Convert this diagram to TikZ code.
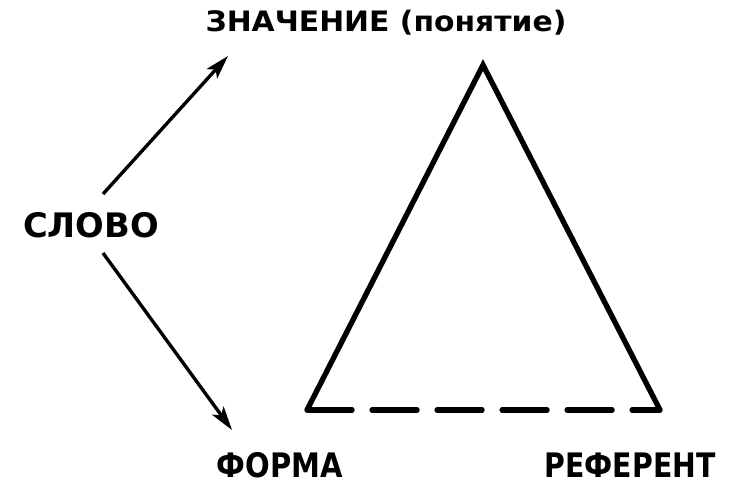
\documentclass[tikz,border=0pt]{standalone}
\usepackage{fontspec}
\setmainfont{DejaVu Sans}
\usetikzlibrary{arrows.meta}

\begin{document}
\begin{tikzpicture}[x=0.025cm,y=-0.025cm,
  word/.style={font=\bfseries\fontsize{24}{24}\selectfont, inner sep=0pt, anchor=base},
  side/.style={line width=3.8pt, line join=miter},
  pointer/.style={line width=2.4pt, -{Stealth[length=17pt,width=10pt,inset=4pt]}}]
\useasboundingbox (0,0) rectangle (740,498);
% words
\node[word, font=\bfseries\fontsize{20}{20}\selectfont] (znach) at (386,32) {\scalebox{1.06}[1]{ЗНАЧЕНИЕ (понятие)}};
\node[word] (slovo) at (91,237) {СЛОВО};
\node[word] (forma) at (280,477) {\scalebox{0.86}[1]{ФОРМА}};
\node[word] (refer) at (630,477) {\scalebox{0.84}[1]{РЕФЕРЕНТ}};
% triangle
\coordinate (apex) at (483,65);
\coordinate (fl) at (307,410);
\coordinate (fr) at (660,410);
\draw[side] (fl) -- (apex) -- (fr);
\draw[side, line cap=round, dash pattern=on 1.125cm off 0.5cm] (fl) -- (fr);
% arrows from the word
\coordinate (up) at (103,194);
\coordinate (down) at (103,253);
\coordinate (upend) at (228,56);
\coordinate (downend) at (232,430);
\draw[pointer] (up) -- (upend);
\draw[pointer] (down) -- (downend);
\end{tikzpicture}
\end{document}
